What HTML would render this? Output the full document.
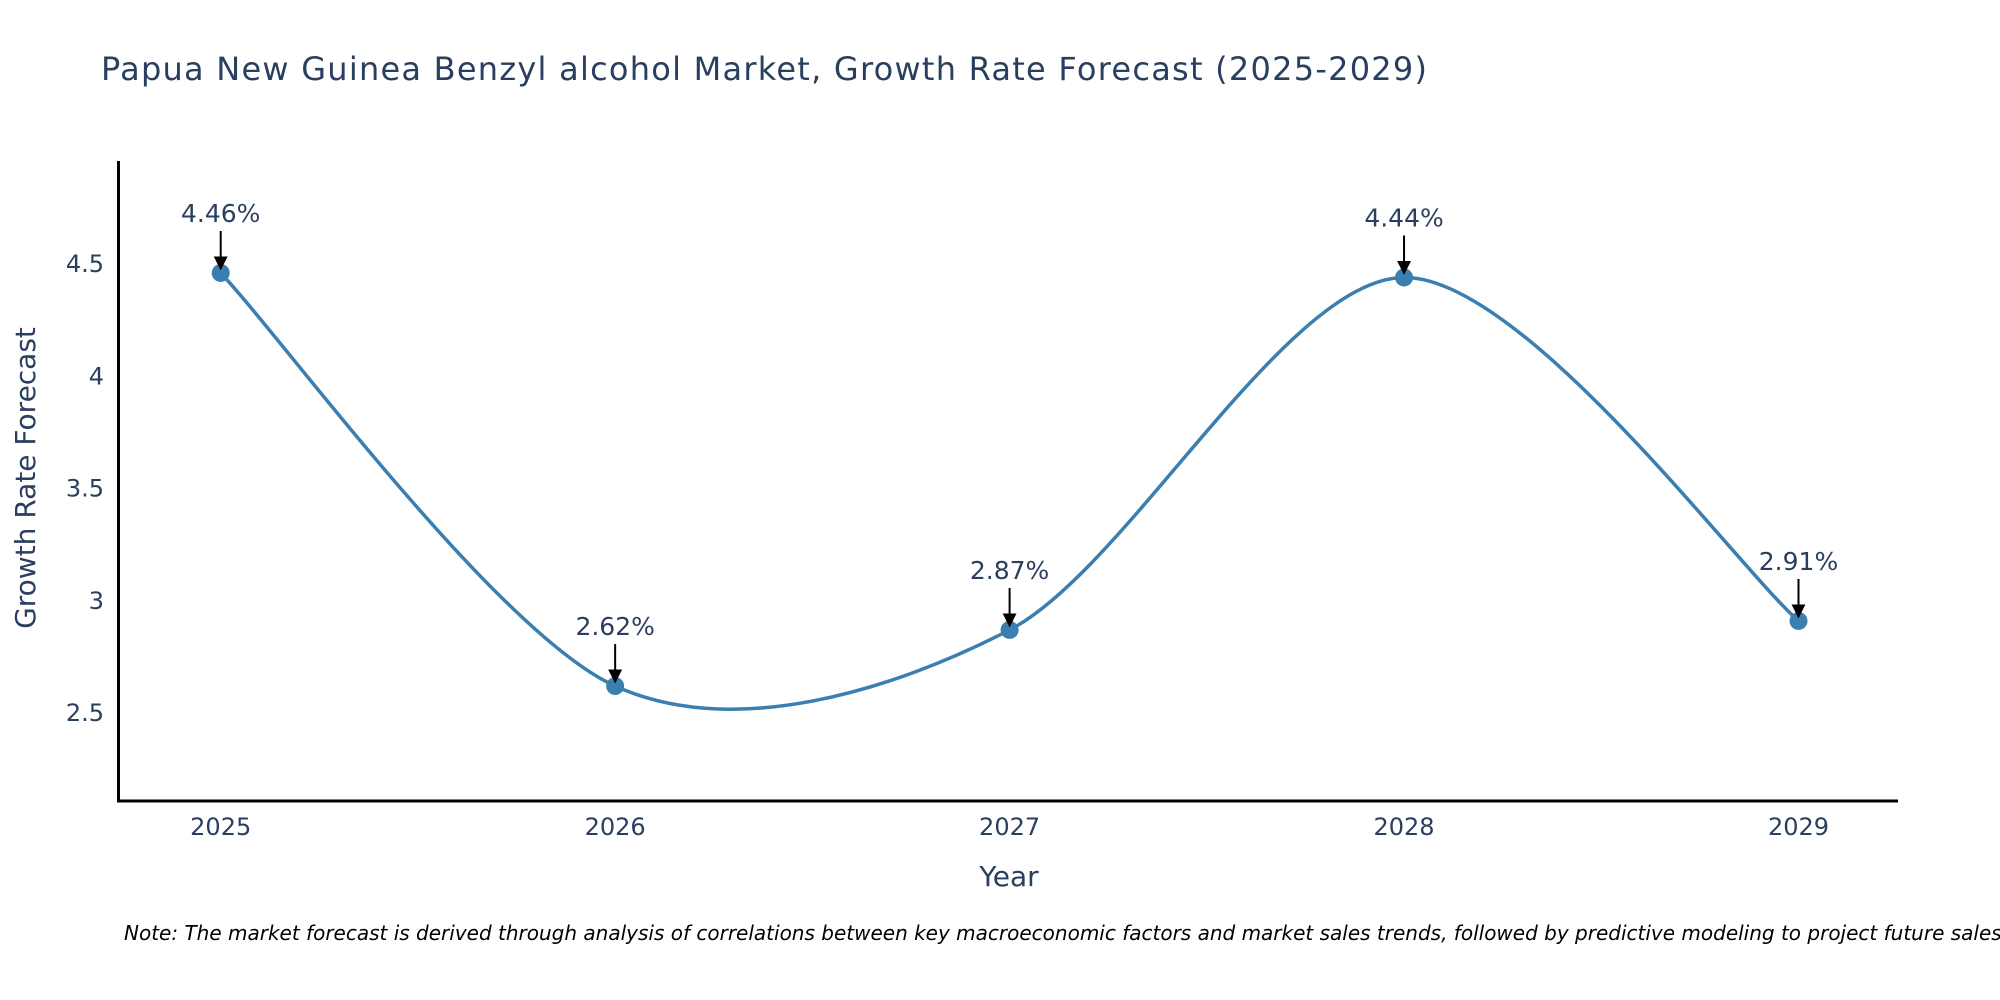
<!DOCTYPE html>
<html><head><meta charset="utf-8"><style>
html,body{margin:0;padding:0;background:#fff}
svg{display:block}
text{font-family:"DejaVu Sans","Liberation Sans",sans-serif;fill:#2a3f5f}
</style></head><body>
<svg id="chart" width="2000" height="1000" viewBox="0 0 2000 1000">
<defs><marker id="ah" viewBox="0 0 10 10" refX="9" refY="5" markerWidth="7" markerHeight="7" orient="auto"><path d="M0,0 L10,5 L0,10 z" fill="#000"/></marker></defs>
<text x="101" y="80" font-size="32" textLength="1326">Papua New Guinea Benzyl alcohol Market, Growth Rate Forecast (2025-2029)</text>
<g id="plot"></g>
<line x1="118.5" y1="161" x2="118.5" y2="802" stroke="#000" stroke-width="3"/>
<line x1="117" y1="801" x2="1898" y2="801" stroke="#000" stroke-width="3"/>
<text transform="translate(35,478) rotate(-90)" text-anchor="middle" font-size="28">Growth Rate Forecast</text>
<text x="1009" y="886" text-anchor="middle" font-size="28">Year</text>
<text x="124" y="940" font-size="20" font-style="italic" style="fill:#000">Note: The market forecast is derived through analysis of correlations between key macroeconomic factors and market sales trends, followed by predictive modeling to project future sales.</text>
</svg>
<script>
const years = [2025, 2026, 2027, 2028, 2029];
const values = [4.46, 2.62, 2.87, 4.44, 2.91];
const labels = ["4.46%", "2.62%", "2.87%", "4.44%", "2.91%"];
const yTicks = [2.5, 3, 3.5, 4, 4.5];
const yTickLabels = ["2.5", "3", "3.5", "4", "4.5"];

const NS = "http://www.w3.org/2000/svg";
const g = document.getElementById("plot");
const x = v => 220.7 + (v - 2025) * 394.45;
const y = v => 713 - (v - 2.5) * 224.5;
function mk(tag, attrs, parent) {
  const e = document.createElementNS(NS, tag);
  for (const k in attrs) e.setAttribute(k, attrs[k]);
  (parent || g).appendChild(e);
  return e;
}
yTicks.forEach((t, i) => {
  const el = mk("text", {x: 104, y: y(t) + 8, "text-anchor": "end", "font-size": 24});
  el.textContent = yTickLabels[i];
  
  
});
years.forEach(yr => {
  const el = mk("text", {x: x(yr), y: 835, "text-anchor": "middle", "font-size": 24});
  el.textContent = String(yr);
  
  
});
const pts = years.map((yr, i) => [x(yr), y(values[i])]);
let d = "M" + pts[0][0] + "," + pts[0][1];
const s = 0.15;
for (let i = 0; i < pts.length - 1; i++) {
  const p0 = pts[Math.max(0, i - 1)], p1 = pts[i], p2 = pts[i + 1], p3 = pts[Math.min(pts.length - 1, i + 2)];
  const c1 = [p1[0] + (p2[0] - p0[0]) * s, p1[1] + (p2[1] - p0[1]) * s];
  const c2 = [p2[0] - (p3[0] - p1[0]) * s, p2[1] - (p3[1] - p1[1]) * s];
  d += " C" + c1.join(",") + " " + c2.join(",") + " " + p2.join(",");
}
const line = mk("path", {d: d, fill: "none", stroke: "#3b7fb0", "stroke-width": 3.5});


pts.forEach((p, i) => {
  const c = mk("circle", {cx: p[0], cy: p[1], r: 9, fill: "#3b7fb0"});
  
  
  const a = mk("line", {x1: p[0], y1: p[1] - 42, x2: p[0], y2: p[1] - 4, stroke: "#000", "stroke-width": 2, "marker-end": "url(#ah)"});
  
  
  const t = mk("text", {x: p[0], y: p[1] - 51, "text-anchor": "middle", "font-size": 25});
  t.textContent = labels[i];
  
  
});
</script>
</body></html>
